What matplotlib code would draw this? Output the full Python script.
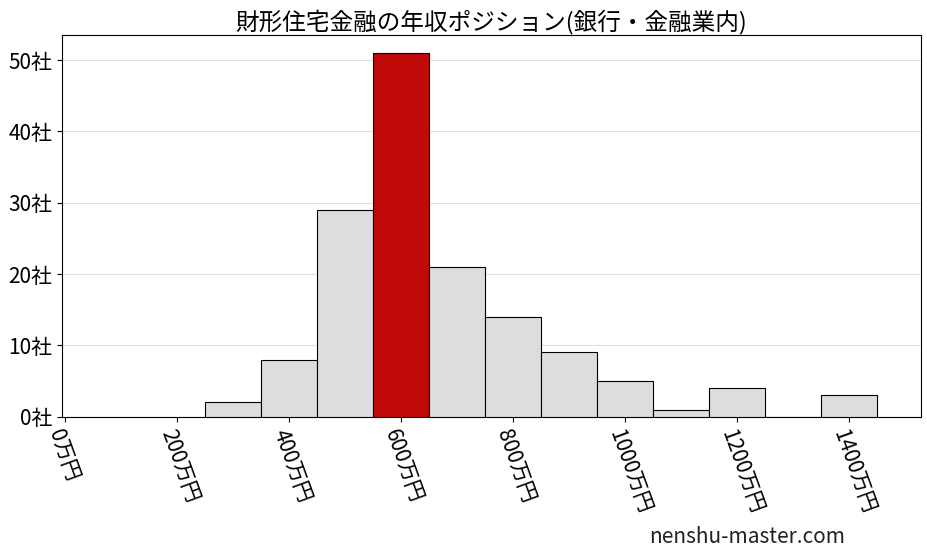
import matplotlib
matplotlib.use("Agg")
import matplotlib.pyplot as plt

plt.rcParams['font.family'] = ['Noto Sans CJK JP', 'DejaVu Sans']

bin_centers = [300, 400, 500, 600, 700, 800, 900, 1000, 1100, 1200, 1300, 1400]
counts = [2, 8, 29, 51, 21, 14, 9, 5, 1, 4, 0, 3]
highlight = 600
xticks = [0, 200, 400, 600, 800, 1000, 1200, 1400]
xticklabels = [f"{v}万円" for v in xticks]
yticks = [0, 10, 20, 30, 40, 50]
yticklabels = [f"{v}社" for v in yticks]
title = "財形住宅金融の年収ポジション(銀行・金融業内)"

fig = plt.figure(figsize=(9.27, 5.57), dpi=100)
ax = fig.add_axes([0.067, 0.252, 0.926, 0.685])
colors = ['#c00a0a' if c == highlight else '#dcdddf' for c in bin_centers]
ax.bar(bin_centers, counts, width=100, color=colors, edgecolor='black', linewidth=0.8, zorder=3)
ax.set_xlim(-5, 1527)
ax.set_ylim(0, 53.5)
ax.set_xticks(xticks)
ax.set_xticklabels(xticklabels, rotation=-70, ha='left', va='top', rotation_mode='anchor', fontsize=15)
ax.set_yticks(yticks)
ax.set_yticklabels(yticklabels, fontsize=15)
ax.grid(axis='y', color='#dddddd', linewidth=0.8, zorder=0)
ax.set_title(title, fontsize=17, pad=4)
fig.text(0.70, 0.025, "nenshu-master.com", fontsize=15, color='#222222')
fig.savefig("out.png", dpi=100)
